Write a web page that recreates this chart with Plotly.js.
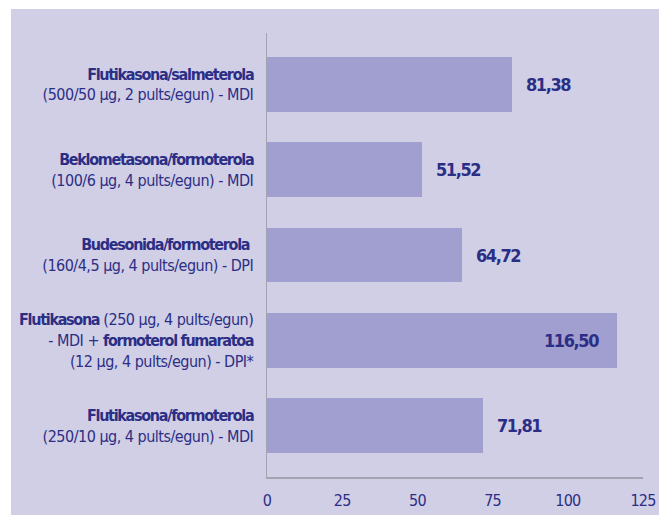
<!DOCTYPE html>
<html>
<head>
<meta charset="utf-8">
<script src="https://cdn.plot.ly/plotly-3.0.1.min.js"></script>
<style>
  html, body { margin: 0; padding: 0; background: #ffffff; }
  #chart { position: absolute; left: 11px; top: 9px; width: 648px; height: 506px; }
  .ytick text { letter-spacing: -0.5px; }
  .ytick text tspan[style*="bold"] { letter-spacing: -1.3px; }
  .xtick text { letter-spacing: -0.8px; }
  .annotation-text { letter-spacing: -1.4px; }
</style>
</head>
<body>
<div id="chart"></div>
<script>
// Data
const categoryLabels = [
  "<b>Flutikasona/salmeterola</b><br>(500/50 µg, 2 pults/egun) - MDI",
  "<b>Beklometasona/formoterola</b><br>(100/6 µg, 4 pults/egun) - MDI",
  "<b>Budesonida/formoterola</b> <br>(160/4,5 µg, 4 pults/egun) - DPI",
  "<b>Flutikasona</b> (250 µg, 4 pults/egun)<br>- MDI + <b>formoterol fumaratoa</b><br>(12 µg, 4 pults/egun) - DPI*",
  "<b>Flutikasona/formoterola</b><br>(250/10 µg, 4 pults/egun) - MDI"
];
const values = [81.38, 51.52, 64.72, 116.50, 71.81];
const valueLabels = ["81,38", "51,52", "64,72", "116,50", "71,81"];
const xTicks = [0, 25, 50, 75, 100, 125];

const positions = values.map((v, i) => i);
const navy = "#2c2e85";
const fontFam = "'DejaVu Sans Condensed', 'Liberation Sans Narrow', sans-serif";

const trace = {
  type: "bar",
  orientation: "h",
  x: values,
  y: positions,
  width: 0.645,
  marker: { color: "#a09fd0", line: { width: 0 } },
  hoverinfo: "none"
};

const annotations = values.map((v, i) => {
  const inside = v > 100;
  return {
    x: v, y: i, xref: "x", yref: "y",
    text: "<b>" + valueLabels[i] + "</b>",
    showarrow: false,
    xanchor: inside ? "right" : "left",
    xshift: inside ? -16 : 12,
    font: { family: fontFam, size: 18, color: navy }
  };
});

const layout = {
  width: 648, height: 506,
  margin: { l: 256, r: 16, t: 24, b: 38 },
  paper_bgcolor: "#d1cfe6",
  plot_bgcolor: "#d1cfe6",
  showlegend: false,
  bargap: 0,
  xaxis: {
    range: [0, 125],
    tickvals: xTicks,
    ticktext: xTicks.map(String),
    showgrid: false, zeroline: false,
    showline: true, linecolor: "#a3a2b0", linewidth: 1.5,
    ticks: "",
    ticklabelstandoff: 8,
    tickfont: { family: fontFam, size: 16, color: navy }
  },
  yaxis: {
    range: [4.604, -0.604],
    tickvals: positions,
    ticktext: categoryLabels,
    showgrid: false, zeroline: false,
    showline: true, linecolor: "#a3a2b0", linewidth: 1.5,
    ticks: "",
    ticklabelstandoff: 9,
    tickfont: { family: fontFam, size: 16, color: navy }
  },
  annotations: annotations
};

Plotly.newPlot("chart", [trace], layout, { displayModeBar: false, staticPlot: true });
</script>
</body>
</html>
